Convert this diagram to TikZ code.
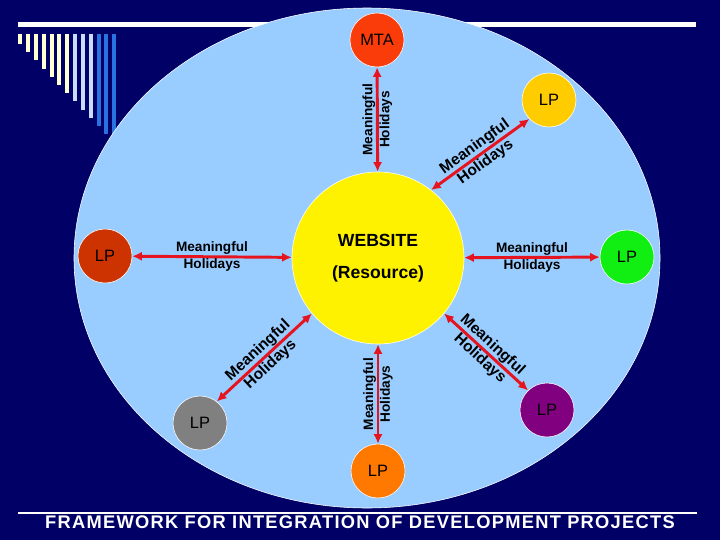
\documentclass[tikz,border=0pt]{standalone}
\usepackage{fontspec}
\setmainfont{Liberation Sans}
\usetikzlibrary{arrows.meta}
\definecolor{navy}{RGB}{0,0,102}
\definecolor{skyfill}{RGB}{153,204,255}
\definecolor{arrred}{RGB}{230,20,30}
\definecolor{mtared}{RGB}{250,60,10}
\definecolor{lpgold}{RGB}{255,204,0}
\definecolor{lpbrown}{RGB}{204,51,0}
\definecolor{lpgreen}{RGB}{17,238,17}
\definecolor{lpgray}{RGB}{128,128,128}
\definecolor{lppurple}{RGB}{128,0,128}
\definecolor{lporange}{RGB}{255,120,0}
\definecolor{barcream}{RGB}{255,255,210}
\definecolor{barlight}{RGB}{200,220,250}
\definecolor{barblue}{RGB}{40,115,225}
\begin{document}
\begin{tikzpicture}[x=0.025cm,y=-0.025cm,
    lp/.style={circle,draw=white,line width=0.4pt,minimum size=1.35cm,inner sep=0pt,
      font=\fontsize{11.7}{14}\selectfont},
    arr/.style={{Latex[length=2.4mm,width=2.3mm]}-{Latex[length=2.4mm,width=2.3mm]},
      draw=arrred,line width=2.1pt},
    lab/.style={align=center,font=\fontsize{9.7}{12}\bfseries\selectfont},
    diag/.style={lab,sloped,font=\fontsize{11}{13.2}\bfseries\selectfont}]
  % background and frame lines
  \fill[navy] (0,0) rectangle (720,540);
  \useasboundingbox (0,0) rectangle (720,540);
  \fill[white] (18,22) rectangle (696,27);
  \fill[white] (18,512) rectangle (697,514);
  % bars in the corner
  \foreach \i in {0,...,12}{
    \ifnum\i<7 \def\barcol{barcream}\else\ifnum\i<10 \def\barcol{barlight}\else\def\barcol{barblue}\fi\fi
    \fill[\barcol] (18.3+7.83*\i,34) rectangle ++(4,10+8.2*\i);
  }
  % big ellipse
  \filldraw[fill=skyfill,draw=white,line width=0.4pt] (367,258) ellipse [x radius=293,y radius=250];
  % hub
  \node[circle,fill=yellow,draw=white,line width=0.4pt,minimum size=4.3cm,align=center,
    font=\fontsize{12.5}{22.8}\bfseries\selectfont] (web) at (378,258) {WEBSITE\\(Resource)};
  % outer circles
  \node[lp,fill=mtared] (mta) at (377,40) {MTA};
  \node[lp,fill=lpgold] (lpur) at (549,100) {LP};
  \node[lp,fill=lpbrown] (lpl) at (105,256) {LP};
  \node[lp,fill=lpgreen] (lpr) at (627,257) {LP};
  \node[lp,fill=lpgray] (lpll) at (200,423) {LP};
  \node[lp,fill=lppurple] (lplr) at (547,410) {LP};
  \node[lp,fill=lporange] (lpb) at (378,471) {LP};
  % links
  \draw[arr] (mta) -- node[lab,rotate=90]{Meaningful\\Holidays} (web);
  \draw[arr] (web.52) -- node[diag]{Meaningful\\Holidays} (lpur.224);
  \draw[arr] (lpl) -- node[lab]{Meaningful\\Holidays} (web);
  \draw[arr] (web) -- node[lab]{Meaningful\\Holidays} (lpr);
  \draw[arr] (web.220) -- node[diag]{Meaningful\\Holidays} (lpll.52);
  \draw[arr] (web.320) -- node[diag]{Meaningful\\Holidays} (lplr.134);
  \draw[arr] (lpb) -- node[lab,rotate=90]{Meaningful\\Holidays} (web);
  % caption
  \node[text=white,font=\fontsize{13}{15}\bfseries\selectfont] (title) at (360,522)
    {\addfontfeature{LetterSpace=7}FRAMEWORK FOR INTEGRATION OF DEVELOPMENT PROJECTS};
\end{tikzpicture}
\end{document}
